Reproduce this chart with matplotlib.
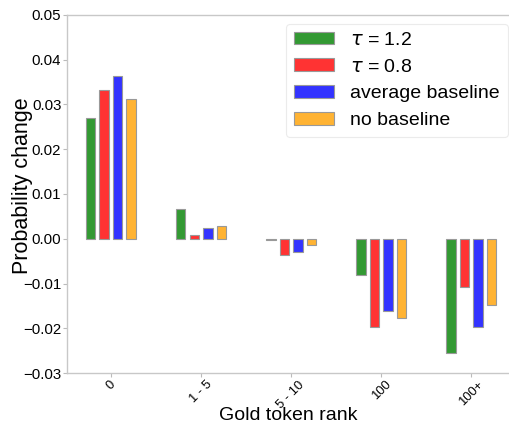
import matplotlib
matplotlib.use("Agg")
import matplotlib.pyplot as plt
import numpy as np

plt.rcParams['font.family'] = ['Liberation Sans', 'DejaVu Sans']

categories = ["0", "1 - 5", "5 - 10", "100", "100+"]
series_names = [r"$\tau$ = 1.2", r"$\tau$ = 0.8", "average baseline", "no baseline"]
tau_12 = [0.0270, 0.0066, -0.0003, -0.0082, -0.0256]
tau_08 = [0.0331, 0.0009, -0.0037, -0.0196, -0.0108]
avg_base = [0.0364, 0.0024, -0.0029, -0.0162, -0.0198]
no_base = [0.0311, 0.0029, -0.0015, -0.0178, -0.0148]
yticks = [-0.03, -0.02, -0.01, 0.00, 0.01, 0.02, 0.03, 0.04, 0.05]

colors = ["#339933", "#ff3333", "#3333ff", "#ffb333"]
series = [tau_12, tau_08, avg_base, no_base]

fig = plt.figure(figsize=(5.1, 4.23), dpi=100)
ax = fig.add_axes([0.131, 0.118, 0.869, 0.847])

x = np.arange(len(categories))
offsets = [-0.225, -0.075, 0.075, 0.225]
for vals, c, name, off in zip(series, colors, series_names, offsets):
    ax.bar(x + off, vals, width=0.105, color=c, edgecolor="#999999", linewidth=0.8, label=name)

ax.set_xlim(-0.49, 4.43)
ax.set_ylim(-0.03, 0.05)
ax.set_yticks(yticks)
ax.set_yticklabels([f"{v:.2f}".replace("-", "\u2212") for v in yticks])
ax.set_xticks(x)
ax.set_xticklabels(categories, rotation=45)
ax.tick_params(axis='y', labelsize=10.8, color="#bbbbbb", length=3, width=0.8, pad=1)
ax.tick_params(axis='x', labelsize=9.4, color="#bbbbbb", length=3, width=0.8, pad=1)
for s in ax.spines.values():
    s.set_color("#c8c8c8")
    s.set_linewidth(1.0)

ax.set_xlabel("Gold token rank", fontsize=14, va="baseline")
ax.xaxis.set_label_coords(0.5, -0.132)
ax.set_ylabel("Probability change", fontsize=15.5, va="center")
ax.yaxis.set_label_coords(-0.1, 0.522)

leg = ax.legend(loc="upper right", fontsize=14, frameon=True, fancybox=True,
                handlelength=2.05, handleheight=0.62, handletextpad=0.85,
                borderpad=0.4, labelspacing=0.5, borderaxespad=0.0,
                bbox_to_anchor=(0.995, 0.975))
leg.get_frame().set_edgecolor("#e6e6e6")
leg.get_frame().set_linewidth(0.8)

fig.savefig("out.png", dpi=100)
